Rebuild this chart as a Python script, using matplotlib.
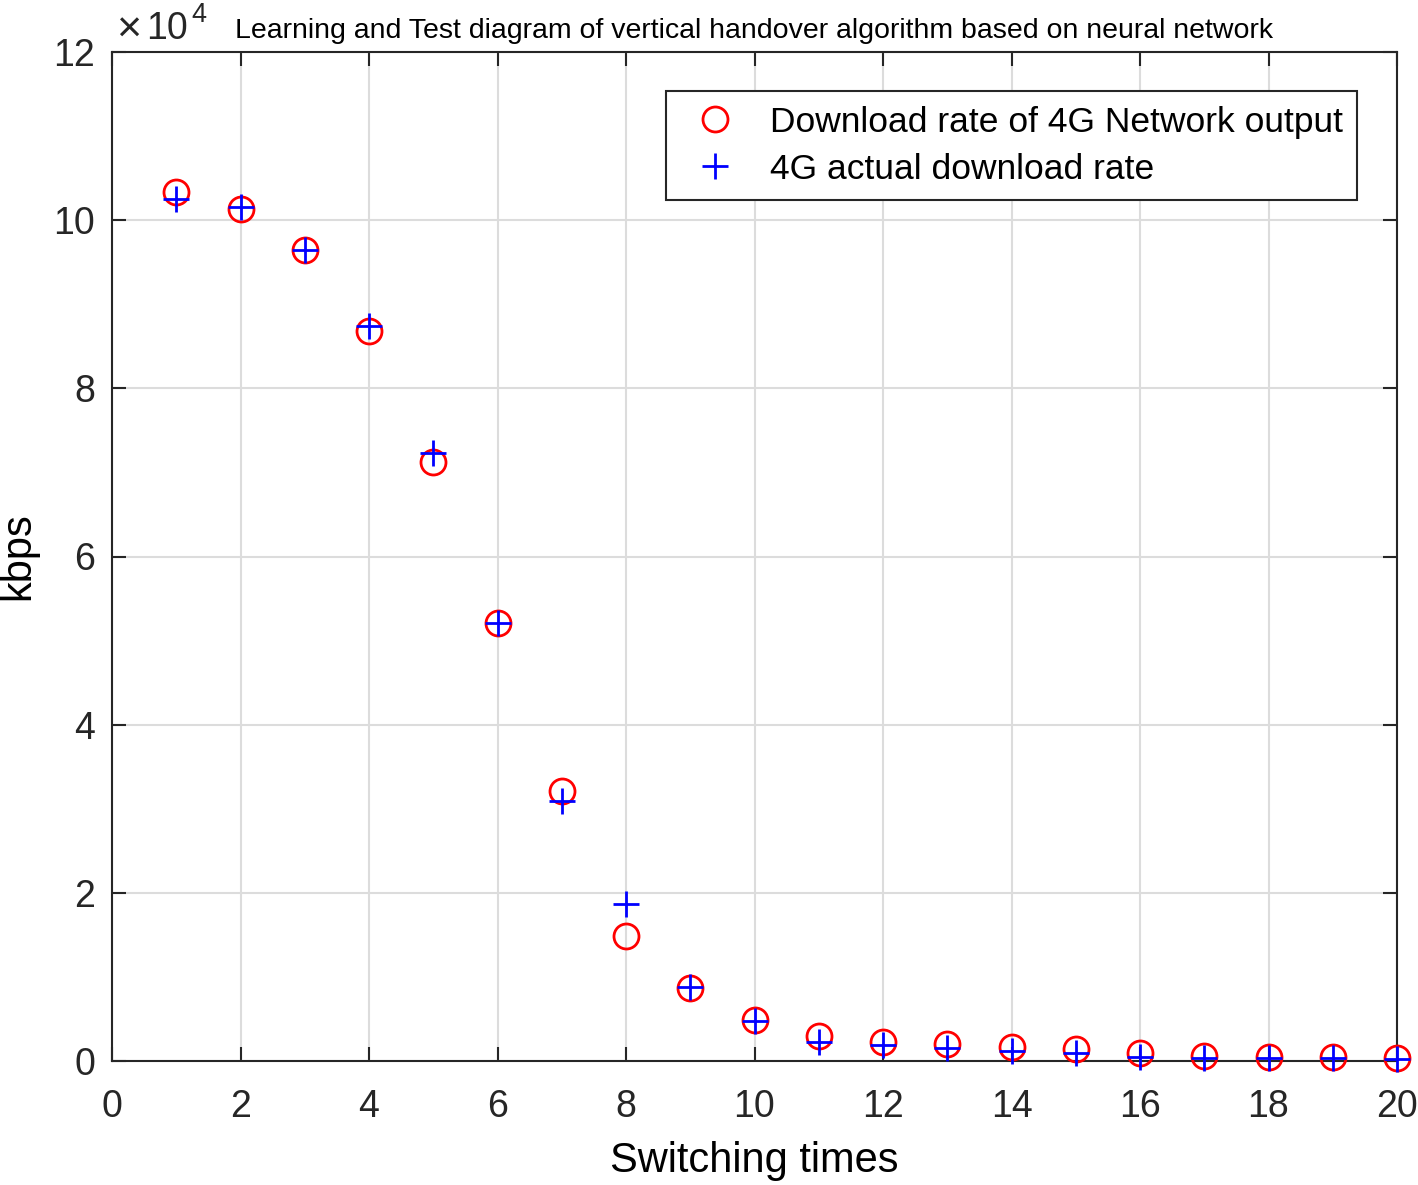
import numpy as np
import matplotlib
matplotlib.use('Agg')
import matplotlib.pyplot as plt

plt.rcParams['font.family'] = ['Liberation Sans', 'DejaVu Sans']
plt.rcParams['text.color'] = '#262626'

switching = np.arange(1, 21)
# values in units of 1e4 kbps
net_output = [10.33, 10.13, 9.65, 8.68, 7.12, 5.21, 3.21, 1.49, 0.87, 0.49,
              0.30, 0.23, 0.20, 0.17, 0.14, 0.10, 0.06, 0.05, 0.05, 0.04]
actual_rate = [10.25, 10.16, 9.65, 8.74, 7.23, 5.21, 3.09, 1.87, 0.88, 0.48,
               0.23, 0.19, 0.155, 0.12, 0.095, 0.05, 0.036, 0.03, 0.03, 0.02]

W, H = 1418, 1185
fig = plt.figure(figsize=(W / 100, H / 100), dpi=100)
ax = fig.add_axes([112/W, 1 - 1061/H, (1397-112)/W, (1061-52)/H])

ax.plot(switching, net_output, 'o', ms=18, mfc='none', mec='red', mew=2,
        label='Download rate of 4G Network output', clip_on=False, zorder=3)
ax.plot(switching, actual_rate, '+', ms=19, mec='blue', mew=2,
        label='4G actual download rate', clip_on=False, zorder=4)

ax.set_xlim(0, 20)
ax.set_ylim(0, 12)
ax.set_xticks(np.arange(0, 21, 2))
ax.set_yticks(np.arange(0, 13, 2))
ax.tick_params(direction='in', length=10, width=1.5, labelsize=27,
               top=True, right=True, colors='#262626')
ax.tick_params(axis='x', pad=20)
ax.tick_params(axis='y', pad=12)
for s in ax.spines.values():
    s.set_linewidth(1.5)
    s.set_color('#262626')
ax.grid(True, color='#dcdcdc', linewidth=1.5)
ax.set_axisbelow(True)

ax.set_xlabel('Switching times', fontsize=30, labelpad=12)
ax.set_ylabel('kbps', fontsize=30, labelpad=11)

# exponent label (x10^4) above the y axis
fig.text(116/W, 1 - 42/H, '\u00d7', fontsize=31, ha='left', va='baseline',
         fontweight='light')
fig.text(146/W, 1 - 39/H, '10', fontsize=27, ha='left', va='baseline')
fig.text(191/W, 1 - 22/H, '4', fontsize=19.5, ha='left', va='baseline')

ax.text(0.096, 1.008, 'Learning and Test diagram of vertical handover algorithm based on neural network',
        transform=ax.transAxes, fontsize=20.5, ha='left', va='bottom', color='black')

leg = ax.legend(loc='upper right', bbox_to_anchor=(0.969, 0.961), borderaxespad=0,
                fontsize=25.5, fancybox=False, edgecolor='#262626', framealpha=1,
                borderpad=0.4, handletextpad=0.55, labelspacing=0.4)
leg.get_frame().set_linewidth(1.5)
for t in leg.get_texts():
    t.set_color('black')

fig.savefig('out.png', dpi=100)
